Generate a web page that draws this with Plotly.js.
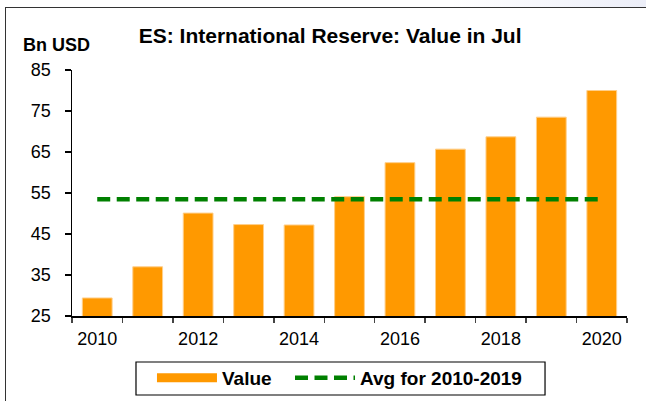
<!DOCTYPE html>
<html>
<head>
<meta charset="utf-8">
<script src="https://cdn.plot.ly/plotly-3.0.1.min.js"></script>
<style>
  html, body { margin: 0; padding: 0; background: #fff; }
  #wrap { position: relative; width: 646px; height: 401px; overflow: hidden; }
  #chart { position: absolute; left: 0; top: 0; width: 646px; height: 401px; }
  #topstrip { position: absolute; left: 0; top: 0; width: 646px; height: 7px;
    background: linear-gradient(to right, #ffffff 0%, #ffffff 70%, #eceef8 100%); }
  #frame { position: absolute; left: 5px; top: 7px; width: 660px; height: 420px;
    border-left: 1.5px solid #333; border-top: 1.5px solid #333; pointer-events: none; }
</style>
</head>
<body>
<div id="wrap">
  <div id="chart"></div>
  <div id="topstrip"></div>
  <div id="frame"></div>
</div>
<script>
// ---- data ----
const years = ["2010","2011","2012","2013","2014","2015","2016","2017","2018","2019","2020"];
const values = [29.4, 37.0, 50.1, 47.3, 47.2, 54.1, 62.4, 65.7, 68.7, 73.5, 80.0];
const avgValues = [53.5, 53.5, 53.5, 53.5, 53.5, 53.5, 53.5, 53.5, 53.5, 53.5, 53.5];
const tickLabels = ["2010","","2012","","2014","","2016","","2018","","2020"];
const yTicks = [25, 35, 45, 55, 65, 75, 85];

const FONT = "Liberation Sans, Arial, Helvetica, sans-serif";
const ORANGE = "#FF9900";
const GREEN = "#008000";

const traces = [
  {
    type: "bar", x: years, y: values, name: "Value", showlegend: false,
    marker: { color: ORANGE, line: { color: "#FFCF8A", width: 1 } },
    hoverinfo: "x+y"
  },
  { // legend entry for the bars (wide swatch like the reference)
    type: "scatter", mode: "lines", x: [null], y: [null], name: "Value",
    line: { color: ORANGE, width: 9 }, showlegend: true, hoverinfo: "skip",
    legend: "legend"
  },
  {
    type: "scatter", mode: "lines", x: years, y: avgValues, name: "Avg for 2010-2019",
    line: { color: GREEN, width: 4.5, dash: "13px,6.5px" },
    legend: "legend2"
  }
];

const legendCommon = {
  orientation: "h", xref: "paper", yref: "paper",
  xanchor: "left", y: -0.252, yanchor: "middle",
  borderwidth: 0, bgcolor: "rgba(0,0,0,0)",
  font: { family: FONT, size: 19, weight: "bold", color: "#000" },
  itemwidth: 60
};

const layout = {
  width: 646, height: 401,
  margin: { l: 72, r: 19, t: 70, b: 85, pad: 0, autoexpand: false },
  paper_bgcolor: "rgba(0,0,0,0)", plot_bgcolor: "#fff",
  font: { family: FONT, color: "#000", size: 18 },
  title: {
    text: "ES: International Reserve: Value in Jul",
    font: { family: FONT, size: 21, weight: "bold", color: "#000" },
    xref: "container", x: 0.511, xanchor: "center",
    yref: "container", y: 0.91, yanchor: "middle"
  },
  bargap: 0.41,
  xaxis: {
    type: "category", tickvals: years, ticktext: tickLabels,
    tickson: "boundaries", ticks: "outside", ticklen: 5, tickcolor: "#444", tickwidth: 1.5,
    showline: true, linecolor: "#000", linewidth: 1.5, showgrid: false, zeroline: false,
    ticklabelstandoff: 6,
    tickfont: { family: FONT, size: 18, color: "#000" }, fixedrange: true
  },
  yaxis: {
    range: [25, 85], tickvals: yTicks, ticks: "outside", ticklen: 6, tickcolor: "#000", tickwidth: 1.5,
    showline: true, linecolor: "#000", linewidth: 1.5, showgrid: false, zeroline: false,
    ticklabelstandoff: 10,
    tickfont: { family: FONT, size: 18, color: "#000" }, fixedrange: true
  },
  legend: Object.assign({}, legendCommon, { x: 0.1441 }),
  legend2: Object.assign({}, legendCommon, { x: 0.3928 }),
  shapes: [
    { // legend frame
      type: "rect", xref: "paper", yref: "paper",
      x0: 0.1153, x1: 0.8523, y0: -0.3211, y1: -0.187,
      line: { color: "#000", width: 1.2 }, fillcolor: "rgba(0,0,0,0)", layer: "below"
    }
  ],
  annotations: [
    {
      text: "Bn USD", showarrow: false, xref: "paper", yref: "paper",
      x: -0.0924, xanchor: "left", y: 1.1016, yanchor: "middle",
      font: { family: FONT, size: 18, weight: "bold", color: "#000" }
    }
  ],
  showlegend: true
};

Plotly.newPlot("chart", traces, layout, { displayModeBar: false, staticPlot: true });
</script>
</body>
</html>
